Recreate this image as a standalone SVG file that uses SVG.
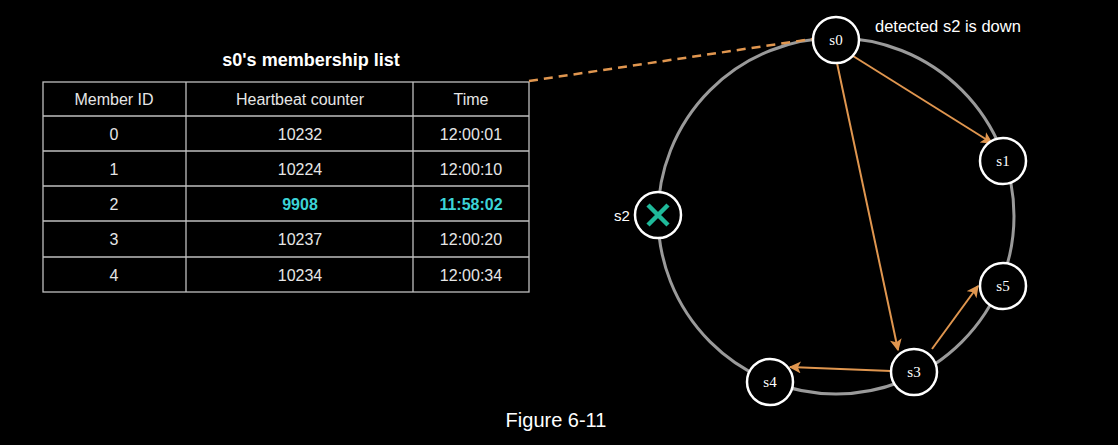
<svg xmlns="http://www.w3.org/2000/svg" width="1118" height="445" viewBox="0 0 1118 445">
<defs>
<marker id="ah" viewBox="0 0 10 10" refX="9" refY="5" markerWidth="13" markerHeight="12" orient="auto" markerUnits="userSpaceOnUse">
<path d="M0,0 L10,5 L0,10 L2.5,5 Z" fill="#e0964f"/>
</marker>
<style>
.t{font-family:"Liberation Sans",Arial,sans-serif;fill:#e6e6e6;font-size:16px;text-anchor:middle}
.hl{font-family:"Liberation Sans",Arial,sans-serif;fill:#3cd3d6;font-size:16px;font-weight:bold;text-anchor:middle}
.grid{stroke:#bfbfbf;stroke-width:1.3;fill:none}
.node{fill:#000;stroke:#fff;stroke-width:2.5}
.nl{font-family:"Liberation Serif","Times New Roman",serif;fill:#fff;font-size:15px;text-anchor:middle}
.edge{stroke:#e0964f;stroke-width:2;fill:none;marker-end:url(#ah)}
</style>
</defs>
<rect width="1118" height="445" fill="#000"/>

<g id="table">
<text x="311" y="66" class="t" style="font-weight:bold;font-size:18px;fill:#fff">s0's membership list</text>
<rect x="43" y="82" width="486" height="210" class="grid"/>
<line x1="186" y1="82" x2="186" y2="292" class="grid"/>
<line x1="413" y1="82" x2="413" y2="292" class="grid"/>
<line x1="43" y1="116" x2="529" y2="116" class="grid"/>
<line x1="43" y1="151" x2="529" y2="151" class="grid"/>
<line x1="43" y1="186" x2="529" y2="186" class="grid"/>
<line x1="43" y1="221" x2="529" y2="221" class="grid"/>
<line x1="43" y1="257" x2="529" y2="257" class="grid"/>
<text x="114" y="105" class="t">Member ID</text>
<text x="300" y="105" class="t">Heartbeat counter</text>
<text x="471" y="105" class="t">Time</text>
<text x="114" y="140" class="t">0</text>
<text x="300" y="140" class="t">10232</text>
<text x="471" y="140" class="t">12:00:01</text>
<text x="114" y="175" class="t">1</text>
<text x="300" y="175" class="t">10224</text>
<text x="471" y="175" class="t">12:00:10</text>
<text x="114" y="210" class="t">2</text>
<text x="300" y="210" class="hl">9908</text>
<text x="471" y="210" class="hl">11:58:02</text>
<text x="114" y="245" class="t">3</text>
<text x="300" y="245" class="t">10237</text>
<text x="471" y="245" class="t">12:00:20</text>
<text x="114" y="281" class="t">4</text>
<text x="300" y="281" class="t">10234</text>
<text x="471" y="281" class="t">12:00:34</text>
</g>

<g id="ring">
<circle cx="836" cy="216" r="178" fill="none" stroke="#9a9a9a" stroke-width="3"/>
</g>

<g id="connectors">
<line x1="529" y1="81" x2="812" y2="39" stroke="#e0964f" stroke-width="2.5" stroke-dasharray="9,6"/>
<line x1="853" y1="56" x2="992" y2="143" class="edge"/>
<line x1="837" y1="63" x2="898" y2="350" class="edge"/>
<line x1="891" y1="371" x2="790" y2="367" class="edge"/>
<line x1="932" y1="349" x2="978" y2="286" class="edge"/>
</g>

<g id="s0">
<circle cx="836" cy="40" r="23" class="node"/>
<text x="836" y="45" class="nl">s0</text>
</g>
<g id="s1">
<circle cx="1003" cy="161" r="23" class="node"/>
<text x="1003" y="166" class="nl">s1</text>
</g>
<g id="s2">
<circle cx="658" cy="215" r="23" class="node"/>
<path d="M648,205 L668,225 M668,205 L648,225" stroke="#1fb99a" stroke-width="4.5" stroke-linecap="butt"/>
<text x="622" y="221" class="t" style="font-size:15px;fill:#fff">s2</text>
</g>
<g id="s5">
<circle cx="1003" cy="286" r="23" class="node"/>
<text x="1003" y="291" class="nl">s5</text>
</g>
<g id="s3">
<circle cx="914" cy="372" r="23" class="node"/>
<text x="914" y="377" class="nl">s3</text>
</g>
<g id="s4">
<circle cx="770" cy="382" r="23" class="node"/>
<text x="770" y="387" class="nl">s4</text>
</g>

<text x="875" y="32" class="t" style="text-anchor:start;font-size:16.5px;fill:#fff">detected s2 is down</text>
<text x="556" y="427" class="t" style="font-size:20px;fill:#fff">Figure 6-11</text>
</svg>
